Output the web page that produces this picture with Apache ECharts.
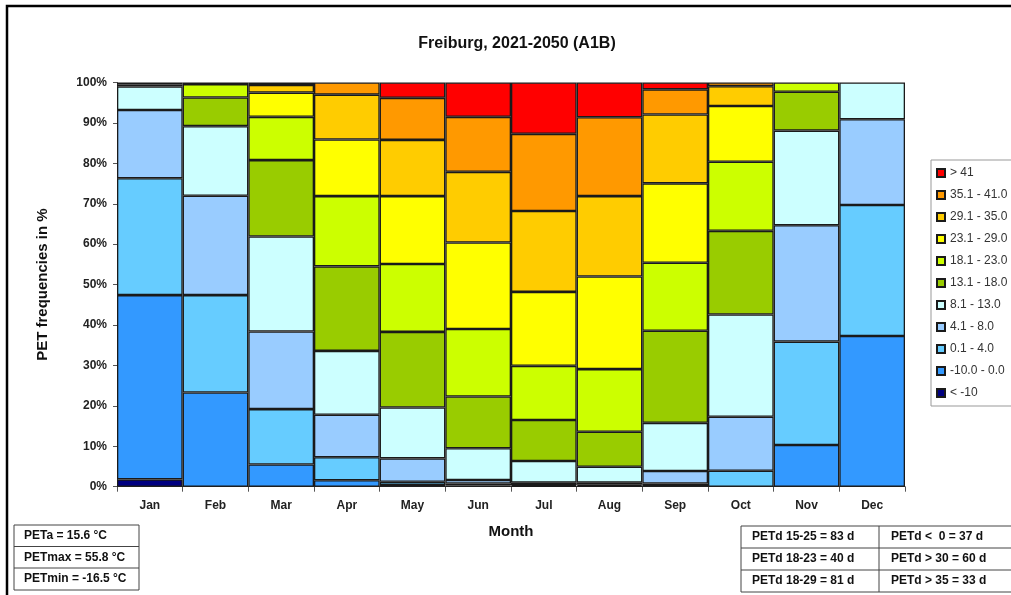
<!DOCTYPE html>
<html>
<head>
<meta charset="utf-8">
<script src="https://cdn.jsdelivr.net/npm/echarts@6/dist/echarts.min.js"></script>
<style>html,body{margin:0;padding:0;background:#fff}#c{width:1011px;height:595px}</style>
</head>
<body>
<div id="c"></div>
<script>
const months = ['Jan','Feb','Mar','Apr','May','Jun','Jul','Aug','Sep','Oct','Nov','Dec'];
const yTicks = ['0%','10%','20%','30%','40%','50%','60%','70%','80%','90%','100%'];
// PET classes, bottom to top
const classNames = ['< -10','-10.0 - 0.0','0.1 - 4.0','4.1 - 8.0','8.1 - 13.0','13.1 - 18.0','18.1 - 23.0','23.1 - 29.0','29.1 - 35.0','35.1 - 41.0','> 41'];
const classColors = ['#000080','#3399ff','#66ccff','#99ccff','#ccffff','#99cc00','#ccff00','#ffff00','#ffcc00','#ff9900','#ff0000'];
// frequencies in % per month (Jan..Dec)
const ltM10  = [1.8,0,0,0,0,0,0,0,0,0,0,0];
const m10to0 = [45.6,23.3,5.5,1.6,0.4,0.3,0.2,0.2,0.4,0,10.3,37.3];
const c0to4  = [28.9,24.1,13.7,5.7,0.8,0.5,0.2,0.3,0.4,3.95,25.6,32.4];
const c4to8  = [16.9,24.6,19.2,10.5,5.8,0.85,0.6,0.5,3.1,13.35,28.8,21.2];
const c8to13 = [5.8,17.2,23.5,15.8,12.6,7.85,5.35,3.95,11.9,25.3,23.4,9.1];
const c13to18= [0.5,7.1,18.9,20.9,18.7,12.8,10.15,8.65,22.8,20.7,9.6,0];
const c18to23= [0.5,3.3,10.7,17.4,16.8,16.7,13.4,15.5,16.8,17.1,2.3,0];
const c23to29= [0,0.4,6.0,14.0,16.8,21.4,18.3,22.9,19.65,13.8,0,0];
const c29to35= [0,0,1.9,11.1,13.9,17.5,20.0,19.9,17.05,4.9,0,0];
const c35to41= [0,0,0.6,3.0,10.4,13.6,19.1,19.5,6.2,0.9,0,0];
const gt41   = [0,0,0,0,3.8,8.5,12.7,8.6,1.7,0,0,0];
const classData = [ltM10,m10to0,c0to4,c4to8,c8to13,c13to18,c18to23,c23to29,c29to35,c35to41,gt41];
// info boxes
const leftBox = ['PETa = 15.6 °C','PETmax = 55.8 °C','PETmin = -16.5 °C'];
const rightBoxA = ['PETd 15-25 = 83 d','PETd 18-23 = 40 d','PETd 18-29 = 81 d'];
const rightBoxB = ['PETd <  0 = 37 d','PETd > 30 = 60 d','PETd > 35 = 33 d'];

const FONT = 'Arial, "Liberation Sans", sans-serif';
const chart = echarts.init(document.getElementById('c'), null, {renderer:'canvas'});

const series = classNames.map((n,i)=>({
  name: n, type: 'bar', stack: 'pet',
  barCategoryGap: '0%',
  data: classData[i].map(v => v === 0 ? '-' : v),
  itemStyle: {color: classColors[i], borderColor: '#1a1a1a', borderWidth: 1.3},
  emphasis: {disabled: true},
  animation: false
}));

const graphics = [
  {type:'rect', shape:{x:7, y:6, width:1100, height:700}, style:{fill:'none', stroke:'#000', lineWidth:2.5}, silent:true},
  // left box
  {type:'rect', shape:{x:14, y:525, width:125, height:65}, style:{fill:'#fff', stroke:'#444', lineWidth:1}},
  {type:'line', shape:{x1:14, y1:546.5, x2:139, y2:546.5}, style:{stroke:'#444', lineWidth:1}},
  {type:'line', shape:{x1:14, y1:568, x2:139, y2:568}, style:{stroke:'#444', lineWidth:1}},
  // right box
  {type:'rect', shape:{x:741, y:526, width:400, height:66}, style:{fill:'#fff', stroke:'#444', lineWidth:1}},
  {type:'line', shape:{x1:741, y1:548, x2:1141, y2:548}, style:{stroke:'#444', lineWidth:1}},
  {type:'line', shape:{x1:741, y1:570, x2:1141, y2:570}, style:{stroke:'#444', lineWidth:1}},
  {type:'line', shape:{x1:879, y1:526, x2:879, y2:592}, style:{stroke:'#444', lineWidth:1}}
];
const rowsL = [536, 557.5, 579];
const rowsR = [537, 559, 581];
leftBox.forEach((t,i)=>graphics.push({type:'text', x:24, y:rowsL[i], style:{text:t, fill:'#111', font:'bold 12px '+FONT, textVerticalAlign:'middle'}}));
rightBoxA.forEach((t,i)=>graphics.push({type:'text', x:752, y:rowsR[i], style:{text:t, fill:'#111', font:'bold 12px '+FONT, textVerticalAlign:'middle'}}));
rightBoxB.forEach((t,i)=>graphics.push({type:'text', x:891, y:rowsR[i], style:{text:t, fill:'#111', font:'bold 12px '+FONT, textVerticalAlign:'middle'}}));

chart.setOption({
  backgroundColor: '#fff',
  animation: false,
  title: {
    text: 'Freiburg, 2021-2050 (A1B)', left: 512, top: 31, textAlign: 'center',
    textStyle: {fontFamily: FONT, fontWeight: 'bold', fontSize: 16, color: '#111'}
  },
  legend: {
    orient: 'vertical', left: 931, top: 160,
    data: classNames.slice().reverse(),
    icon: 'rect', itemWidth: 8, itemHeight: 8, itemGap: 8,
    padding: [6, 40, 6, 5],
    borderColor: '#999', borderWidth: 1,
    selectedMode: false,
    textStyle: {fontFamily: FONT, fontSize: 12, color: '#333', lineHeight: 14}
  },
  grid: {left: 117, right: 106, top: 82.5, bottom: 108.3, containLabel: false},
  xAxis: {
    type: 'category', data: months,
    name: 'Month', nameLocation: 'middle', nameGap: 38,
    nameTextStyle: {fontFamily: FONT, fontWeight: 'bold', fontSize: 15, color: '#111'},
    axisLine: {lineStyle: {color: '#333', width: 1}},
    axisTick: {show: true, length: 5, alignWithLabel: false, lineStyle: {color: '#555'}},
    axisLabel: {fontFamily: FONT, fontWeight: 'bold', fontSize: 12, color: '#222', margin: 13}
  },
  yAxis: {
    type: 'value', min: 0, max: 100, interval: 10,
    name: 'PET frequencies in %', nameLocation: 'middle', nameGap: 67, nameRotate: 90,
    nameTextStyle: {fontFamily: FONT, fontWeight: 'bold', fontSize: 15, color: '#111'},
    axisLine: {show: true, lineStyle: {color: '#555', width: 1}},
    axisTick: {show: true, length: 4, lineStyle: {color: '#555'}},
    splitLine: {show: false},
    axisLabel: {fontFamily: FONT, fontWeight: 'bold', fontSize: 12, color: '#222', margin: 10,
      formatter: v => yTicks[Math.round(v/10)]}
  },
  series: series,
  graphic: graphics
});
</script>
</body>
</html>
